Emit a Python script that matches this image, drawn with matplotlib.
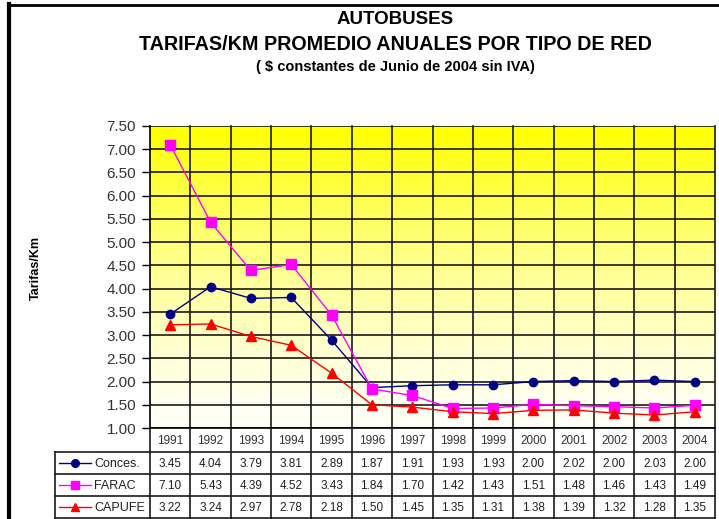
import numpy as np
import matplotlib.pyplot as plt
from matplotlib.colors import LinearSegmentedColormap
from matplotlib.transforms import blended_transform_factory

years = [1991, 1992, 1993, 1994, 1995, 1996, 1997, 1998, 1999, 2000, 2001, 2002, 2003, 2004]
conces = [3.45, 4.04, 3.79, 3.81, 2.89, 1.87, 1.91, 1.93, 1.93, 2.00, 2.02, 2.00, 2.03, 2.00]
farac = [7.10, 5.43, 4.39, 4.52, 3.43, 1.84, 1.70, 1.42, 1.43, 1.51, 1.48, 1.46, 1.43, 1.49]
capufe = [3.22, 3.24, 2.97, 2.78, 2.18, 1.50, 1.45, 1.35, 1.31, 1.38, 1.39, 1.32, 1.28, 1.35]
series_names = ["Conces.", "FARAC", "CAPUFE"]

plt.rcParams['font.family'] = ['Liberation Sans', 'DejaVu Sans']

W, H = 719, 519
fig = plt.figure(figsize=(W / 100, H / 100), dpi=100)

# plot area in pixels
left, right, top, bottom = 150, 715, 126, 428
ax = fig.add_axes([left / W, 1 - bottom / H, (right - left) / W, (bottom - top) / H])
n = len(years)
ax.set_xlim(-0.5, n - 0.5)
ax.set_ylim(1.0, 7.5)

# yellow -> white gradient background (fades quicker toward the bottom)
cmap = LinearSegmentedColormap.from_list("yw", ["#FFFFF8", "#FFFF00"])
grad = np.linspace(0, 1, 256).reshape(-1, 1) ** 1.35
ax.imshow(grad, extent=[-0.5, n - 0.5, 1.0, 7.5], origin='lower', aspect='auto',
          cmap=cmap, zorder=0, interpolation='bilinear')

yt = np.arange(1.0, 7.51, 0.5)
ax.set_yticks(yt)
ax.set_yticklabels(["%.2f" % v for v in yt], fontsize=11, color='#333333')
ax.tick_params(axis='y', length=6, width=1, pad=4)
ax.set_xticks([])
for v in yt:
    ax.axhline(v, color='#1a1a1a', lw=1.2, zorder=1)

for s in ['right', 'top']:
    ax.spines[s].set_visible(False)
ax.spines['left'].set_linewidth(1.2)
ax.spines['bottom'].set_linewidth(1.2)

# vertical grid lines running down through the table
xt = ax.get_xaxis_transform()
tbl_bottom = 518
ext = -(tbl_bottom - bottom) / (bottom - top)
for b in np.arange(0.5, n - 0.5, 1):
    ax.plot([b, b], [1, ext], transform=xt, color='#1a1a1a', lw=1.2, clip_on=False, zorder=1)
ax.plot([n - 0.5, n - 0.5], [1, ext], transform=xt, color='#1a1a1a', lw=1.2, clip_on=False)
ax.plot([-0.5, -0.5], [0, ext], transform=xt, color='#1a1a1a', lw=1.2, clip_on=False)

x = np.arange(n)
styles = [(conces, '#000080', 'o', 6), (farac, '#FF00FF', 's', 6.5), (capufe, '#FF0000', '^', 6.5)]
for vals, c, m, ms in styles:
    ax.plot(x, vals, color=c, lw=1, marker=m, markersize=ms, zorder=3)

# overlay for table, titles and frame (pixel coordinates)
ov = fig.add_axes([0, 0, 1, 1], zorder=-1)
ov.set_xlim(0, W)
ov.set_ylim(H, 0)
ov.axis('off')
bt = blended_transform_factory(ax.transData, ov.transData)

row_top = 452
row_h = 22
for i, yr in enumerate(years):
    ax.text(i, (bottom + row_top) / 2 + 1, str(yr), transform=bt, ha='center', va='center',
            fontsize=8.5, color='#333333')

lab_left = 55
for k in range(4):
    yy = row_top + k * row_h
    ov.plot([lab_left, right], [yy, yy], color='#1a1a1a', lw=1.2)
ov.plot([lab_left, lab_left], [row_top, tbl_bottom], color='#1a1a1a', lw=1.2)

for r, (vals, c, m, ms) in enumerate(styles):
    yc = row_top + r * row_h + row_h / 2
    for i, v in enumerate(vals):
        ax.text(i, yc + 1, "%.2f" % v, transform=bt, ha='center', va='center',
                fontsize=8.5, color='#222222')
    ov.plot([59, 91], [yc, yc], color=c, lw=1)
    ov.plot([75], [yc], color=c, marker=m, markersize=ms - 0.5)
    ov.text(94, yc + 1, series_names[r], ha='left', va='center', fontsize=9, color='#222222')

# titles
cx = 395
ov.text(cx, 20, "AUTOBUSES", ha='center', va='center', fontsize=13.5, fontweight='bold')
ov.text(cx, 45, "TARIFAS/KM PROMEDIO ANUALES POR TIPO DE RED", ha='center', va='center',
        fontsize=14.2, fontweight='bold')
ov.text(cx, 67, "( $ constantes de Junio de 2004 sin IVA)", ha='center', va='center',
        fontsize=10.5, fontweight='bold')

ov.text(36, 268, "Tarifas/Km", rotation=90, ha='center', va='center', fontsize=9,
        fontweight='bold', family=['Liberation Sans Narrow', 'Liberation Sans'])

# outer frame
ov.plot([9, 9], [4, H], color='black', lw=3)
ov.plot([8, W], [5, 5], color='black', lw=2)

fig.savefig("out.png", dpi=100)
